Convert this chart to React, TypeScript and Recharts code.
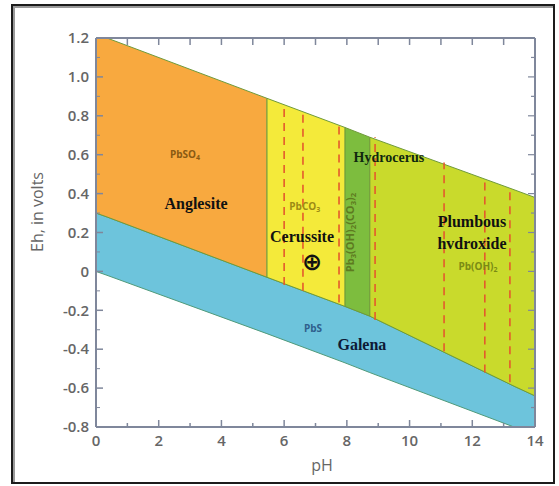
import React from "react";
import { Area, ComposedChart, ReferenceDot, ReferenceLine, XAxis, YAxis } from "recharts";

// pH break points along the diagram and the Eh of each boundary there
const ph = [0, 0.35, 5.45, 7.94, 8.73, 13.33, 14];
const upperEh = [1.2, 1.2, 0.89, 0.74, 0.69, 0.42, 0.38]; // top of the stability field
const galenaTopEh = [0.3, 0.28, -0.03, -0.18, -0.23, -0.59, -0.64]; // PbS upper boundary
const lowerEh = [0, -0.02, -0.32, -0.47, -0.52, -0.8, -0.8]; // bottom of the PbS band

// oxidised phases between galena and the top line
const phaseNames = ["anglesite", "cerussite", "hydrocerussite", "plumbous"];
const phaseFrom = [0, 5.45, 7.94, 8.73];
const phaseTo = [5.45, 7.94, 8.73, 14];

// red dashed verticals
const dashPh = [6.0, 6.6, 7.75, 8.9, 11.1, 12.4, 13.2];
const dashTop = [0.86, 0.82, 0.75, 0.69, 0.56, 0.48, 0.43];
const dashBottom = [-0.07, -0.1, -0.16, -0.25, -0.41, -0.52, -0.57];

const xTicks = [0, 1, 2, 3, 4, 5, 6, 7, 8, 9, 10, 11, 12, 13, 14];
const yTicks = [-0.8, -0.7, -0.6, -0.5, -0.4, -0.3, -0.2, -0.1, 0, 0.1, 0.2, 0.3, 0.4, 0.5, 0.6, 0.7, 0.8, 0.9, 1.0, 1.1, 1.2];

// text written on the diagram
const names = ["PbSO4", "Anglesite", "PbCO3", "Cerussite", "⊕", "Hydrocerus", "Pb3(OH)2(CO3)2", "Plumbous", "hvdroxide", "Pb(OH)2", "PbS", "Galena"];
const namePh = [2.84, 3.19, 6.66, 6.57, 6.89, 9.34, 8.23, 11.99, 11.99, 12.18, 6.92, 8.48];
const nameEh = [0.583, 0.352, 0.316, 0.182, 0.048, 0.588, 0.2, 0.259, 0.146, 0.007, -0.296, -0.373];

const fills: Record<string, string> = {
  anglesite: "#F8A93F",
  cerussite: "#F4EA3A",
  hydrocerussite: "#7DBD3E",
  plumbous: "#C9DA2C",
  galena: "#6DC4DC",
};

const axisColor = "#7f879b";
const tickText = "#666";

const rows = ph.map((x, i) => {
  const row: Record<string, any> = { ph: x, galena: [lowerEh[i], galenaTopEh[i]] };
  phaseNames.forEach((n, j) => {
    row[n] = x >= phaseFrom[j] && x <= phaseTo[j] ? [galenaTopEh[i], upperEh[i]] : null;
  });
  return row;
});

const fmtY = (v: number) => (v === 0 ? "0" : v.toFixed(1));
const isMajorX = (v: number) => v % 2 === 0;
const isMajorY = (v: number) => Math.round(v * 10) % 2 === 0;

const BottomTick = (p: any) => {
  const v = p.payload.value;
  const major = isMajorX(v);
  return (
    <g>
      <line x1={p.x} x2={p.x} y1={p.y} y2={p.y - (major ? 7 : 4)} stroke={axisColor} strokeWidth={1.5} />
      {major && (
        <text x={p.x} y={p.y + 19} textAnchor="middle" fontFamily="Open Sans" fontWeight={600} fontSize={15} fill={tickText}>
          {v}
        </text>
      )}
    </g>
  );
};

const TopTick = (p: any) => (
  <line x1={p.x} x2={p.x} y1={p.y} y2={p.y + 7} stroke={axisColor} strokeWidth={1.5} />
);

const LeftTick = (p: any) => {
  const v = p.payload.value;
  const major = isMajorY(v);
  return (
    <g>
      <line x1={p.x} x2={p.x + (major ? 7 : 4)} y1={p.y} y2={p.y} stroke={axisColor} strokeWidth={major ? 1.5 : 1} />
      {major && (
        <text x={p.x - 7} y={p.y} dy="0.35em" textAnchor="end" fontFamily="Open Sans" fontWeight={600} fontSize={15} fill={tickText}>
          {fmtY(v)}
        </text>
      )}
    </g>
  );
};

const RightTick = (p: any) => {
  const major = isMajorY(p.payload.value);
  return <line x1={p.x} x2={p.x - (major ? 7 : 4)} y1={p.y} y2={p.y} stroke={axisColor} strokeWidth={1.2} />;
};

// splits "PbSO4" style formulas into subscripted digits
const formula = (s: string) => {
  const parts = s.split(/(\d+)/);
  return parts.map((part, k) =>
    /^\d+$/.test(part) ? (
      <tspan key={k} fontSize="70%" dy={2}>
        {part}
      </tspan>
    ) : (
      <tspan key={k} dy={k > 0 && /^\d+$/.test(parts[k - 1]) ? -2 : 0}>
        {part}
      </tspan>
    )
  );
};

const labelStyle = (name: string) => {
  const serif = { fontFamily: "Liberation Serif", fontWeight: 700, fontSize: 16, fill: "#111" };
  const small = { fontFamily: "Open Sans", fontWeight: 700, fontSize: 10 };
  switch (name) {
    case "PbSO4":
      return { ...small, fill: "#8a5a12" };
    case "PbCO3":
      return { ...small, fill: "#9c8a14" };
    case "Pb(OH)2":
      return { ...small, fill: "#7a8a14" };
    case "Pb3(OH)2(CO3)2":
      return { ...small, fontSize: 11, fill: "#5d7a20" };
    case "PbS":
      return { ...small, fill: "#2f5f8c" };
    case "Hydrocerus":
      return { ...serif, fontSize: 14, fill: "#10280f" };
    case "Galena":
      return { ...serif, fill: "#0e1a36" };
    case "⊕":
      return { fontFamily: "DejaVu Sans", fontWeight: 700, fontSize: 24, fill: "#111" };
    default:
      return serif;
  }
};

const NameLabel = ({ cx, cy, name }: any) => {
  const st = labelStyle(name);
  const rotated = name === "Pb3(OH)2(CO3)2";
  const sub = /\d/.test(name) && name.startsWith("Pb");
  return (
    <text
      x={cx}
      y={cy}
      dy="0.35em"
      textAnchor="middle"
      transform={rotated ? `rotate(-90 ${cx} ${cy})` : undefined}
      {...st}
    >
      {sub ? formula(name) : name}
    </text>
  );
};

export default function App() {
  return (
    <div style={{ position: "absolute", left: 0, top: 0, width: 559, height: 486, background: "#fff" }}>
      <div
        style={{
          position: "absolute",
          left: 11,
          top: 4,
          width: 540,
          height: 476,
          border: "2px solid #1c1c1c",
          boxShadow: "inset 2px 2px 0 #9a9a9a",
        }}
      />
      <div style={{ position: "absolute", left: 0, top: 0 }}>
        <ComposedChart width={559} height={486} data={rows} margin={{ top: 37, right: 23, bottom: 29, left: 46 }}>
          <XAxis
            xAxisId="b"
            dataKey="ph"
            type="number"
            domain={[0, 14]}
            ticks={xTicks}
            interval={0}
            allowDataOverflow
            height={30}
            tickSize={0}
            tickMargin={0}
            tickLine={false}
            tick={(p: any) => <BottomTick {...p} />}
            axisLine={{ stroke: axisColor, strokeWidth: 2 }}
          />
          <XAxis
            xAxisId="t"
            orientation="top"
            dataKey="ph"
            type="number"
            domain={[0, 14]}
            ticks={xTicks}
            interval={0}
            allowDataOverflow
            height={1}
            tickSize={0}
            tickMargin={0}
            tickLine={false}
            tick={(p: any) => <TopTick {...p} />}
            axisLine={{ stroke: axisColor, strokeWidth: 2 }}
          />
          <YAxis
            yAxisId="l"
            type="number"
            domain={[-0.8, 1.2]}
            ticks={yTicks}
            interval={0}
            allowDataOverflow
            width={50}
            tickSize={0}
            tickMargin={0}
            tickLine={false}
            tick={(p: any) => <LeftTick {...p} />}
            axisLine={{ stroke: axisColor, strokeWidth: 2 }}
          />
          <YAxis
            yAxisId="r"
            orientation="right"
            type="number"
            domain={[-0.8, 1.2]}
            ticks={yTicks}
            interval={0}
            allowDataOverflow
            width={1}
            tickSize={0}
            tickMargin={0}
            tickLine={false}
            tick={(p: any) => <RightTick {...p} />}
            axisLine={{ stroke: axisColor, strokeWidth: 2 }}
          />

          <Area
            xAxisId="b"
            yAxisId="l"
            type="linear"
            dataKey="galena"
            fill={fills.galena}
            fillOpacity={1}
            stroke="#4f9a7a"
            strokeWidth={1}
            dot={false}
            activeDot={false}
            isAnimationActive={false}
          />
          {phaseNames.map((n) => (
            <Area
              key={n}
              xAxisId="b"
              yAxisId="l"
              type="linear"
              dataKey={n}
              fill={fills[n]}
              fillOpacity={1}
              stroke="#6f9a3a"
              strokeWidth={1}
              dot={false}
              activeDot={false}
              isAnimationActive={false}
            />
          ))}

          {phaseFrom.slice(1).map((b) => {
            const i = ph.indexOf(b);
            return (
              <ReferenceLine
                key={"b" + b}
                xAxisId="b"
                yAxisId="l"
                segment={[
                  { x: b, y: galenaTopEh[i] },
                  { x: b, y: upperEh[i] },
                ]}
                stroke="#6f9a3a"
                strokeWidth={1.2}
              />
            );
          })}

          {dashPh.map((x, i) => (
            <ReferenceLine
              key={"d" + x}
              xAxisId="b"
              yAxisId="l"
              segment={[
                { x, y: dashBottom[i] },
                { x, y: dashTop[i] },
              ]}
              stroke="#E45A2C"
              strokeWidth={1.6}
              strokeDasharray="8 6"
            />
          ))}

          {names.map((n, i) => (
            <ReferenceDot
              key={n}
              xAxisId="b"
              yAxisId="l"
              x={namePh[i]}
              y={nameEh[i]}
              r={0}
              shape={(p: any) => <NameLabel cx={p.cx} cy={p.cy} name={n} />}
            />
          ))}
        </ComposedChart>
      </div>
      <div
        style={{
          position: "absolute",
          left: 37,
          top: 212,
          transform: "translate(-50%, -50%) rotate(-90deg)",
          whiteSpace: "nowrap",
          fontFamily: "Open Sans",
          fontSize: 16,
          color: tickText,
        }}
      >
        Eh, in volts
      </div>
      <div
        style={{
          position: "absolute",
          left: 322,
          top: 465,
          transform: "translate(-50%, -50%)",
          fontFamily: "Open Sans",
          fontSize: 16,
          color: tickText,
        }}
      >
        pH
      </div>
    </div>
  );
}
